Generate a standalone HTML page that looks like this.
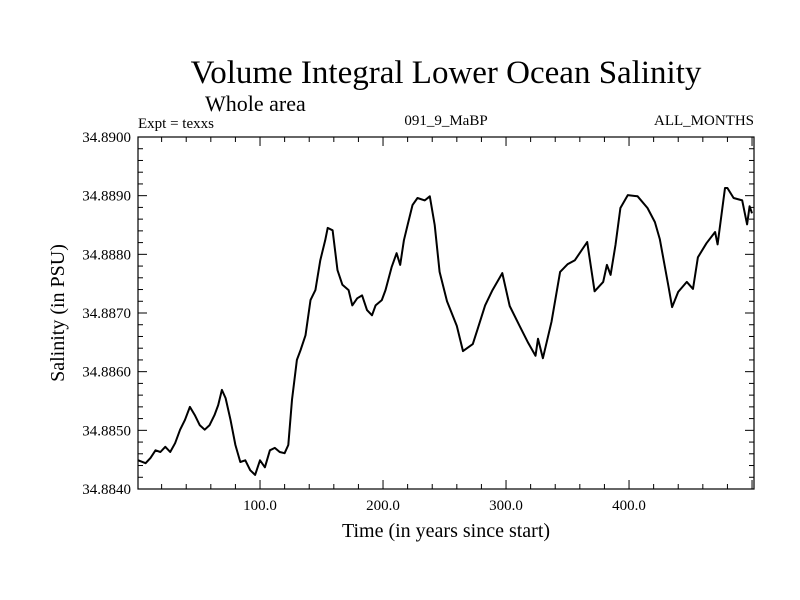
<!DOCTYPE html>
<html><head><meta charset="utf-8"><style>
html,body{margin:0;padding:0;background:#fff;}
svg{display:block;font-family:"Liberation Serif",serif;}
</style></head><body>
<svg id="chart" width="800" height="600">
<text x="446" y="83" font-size="33" text-anchor="middle">Volume Integral Lower Ocean Salinity</text>
<text x="205" y="111" font-size="22">Whole area</text>
<text x="138" y="128" font-size="15">Expt = texxs</text>
<text x="446" y="125" font-size="15" text-anchor="middle">091_9_MaBP</text>
<text x="754" y="125" font-size="15" text-anchor="end">ALL_MONTHS</text>
<text x="446" y="537" font-size="20" text-anchor="middle">Time (in years since start)</text>
<text transform="translate(64,313) rotate(-90)" font-size="20" text-anchor="middle">Salinity (in PSU)</text>
<g id="axes"></g>
<path id="line" fill="none" stroke="#000" stroke-width="2" stroke-linejoin="round"/>
<rect x="138" y="137" width="616" height="352" fill="none" stroke="#000" stroke-width="1.2"/>
</svg>
<script>
const years=[1,7,11,15,19,23,27,31,35,39,43,47,51,55,59,63,66,69,72,76,80,84,88,92,96,100,104,108,112,116,120,123,126,130,133,137,141,145,149,153,155,159,163,167,172,175,179,183,187,191,194,199,202,207,211,214,217,220,224,228,234,238,242,246,252,260,265,273,277,283,289,297,303,311,318,324,326,330,337,344,350,356,366,372,379,382,385,389,393,399,407,415,421,425,432,435,440,447,452,456,463,470,472,478,480,485,492,496,498,500];
const salinity=[34.88449,34.88444,34.88453,34.88466,34.88463,34.88472,34.88463,34.88478,34.88501,34.88518,34.88540,34.88526,34.88509,34.88501,34.88509,34.88526,34.88543,34.88569,34.88555,34.88518,34.88475,34.88446,34.88449,34.88432,34.88424,34.88449,34.88437,34.88466,34.88470,34.88463,34.88461,34.88475,34.88552,34.88620,34.88637,34.88662,34.88722,34.88739,34.88790,34.88824,34.88845,34.88841,34.88773,34.88748,34.88739,34.88713,34.88725,34.88730,34.88705,34.88696,34.88713,34.88722,34.88739,34.88778,34.88802,34.88782,34.88824,34.88850,34.88884,34.88896,34.88892,34.88899,34.88850,34.88770,34.88720,34.88678,34.88635,34.88647,34.88673,34.88713,34.88739,34.88768,34.88712,34.88678,34.88649,34.88627,34.88656,34.88623,34.88685,34.88770,34.88783,34.88790,34.88821,34.88737,34.88753,34.88782,34.88765,34.88816,34.88879,34.88901,34.88899,34.88879,34.88855,34.88826,34.88746,34.88710,34.88736,34.88753,34.88741,34.88795,34.88819,34.88838,34.88817,34.88913,34.88913,34.88896,34.88892,34.88851,34.88882,34.88870];
const xTickValues=[100,200,300,400];
const xTickLabels=["100.0","200.0","300.0","400.0"];
const yTickValues=[34.884,34.885,34.886,34.887,34.888,34.889,34.890];
const yTickLabels=["34.8840","34.8850","34.8860","34.8870","34.8880","34.8890","34.8900"];
const L=138,R=754,T=137,B=489,X0=0.8,X1=501.6,Y0=34.884,Y1=34.890;
function sx(v){return L+(v-X0)/(X1-X0)*(R-L);}
function sy(v){return B-(v-Y0)/(Y1-Y0)*(B-T);}
const NS="http://www.w3.org/2000/svg";
const g=document.getElementById('axes');
function ln(x1,y1,x2,y2,name){const e=document.createElementNS(NS,'line');e.setAttribute('x1',x1);e.setAttribute('y1',y1);e.setAttribute('x2',x2);e.setAttribute('y2',y2);e.setAttribute('stroke','#000');e.setAttribute('stroke-width','1');


g.appendChild(e);}
function tx(x,y,s,anchor,name){const e=document.createElementNS(NS,'text');e.setAttribute('x',x);e.setAttribute('y',y);e.setAttribute('font-size','15');e.setAttribute('text-anchor',anchor);e.textContent=s;


g.appendChild(e);}
for(let v=20;v<X1;v+=20){const x=sx(v);const major=v%100===0;const len=major?9:5;ln(x,B,x,B-len,'x-tick');ln(x,T,x,T+len,'x-tick-top');}
xTickValues.forEach((v,i)=>tx(sx(v),B+21,xTickLabels[i],'middle','x-tick-label'));
for(let k=0;k<=30;k++){const v=Y0+k*0.0002;const y=sy(v);const major=k%5===0;const len=major?9:5;ln(L,y,L+len,y,'y-tick');ln(R,y,R-len,y,'y-tick-right');}
yTickValues.forEach((v,i)=>tx(L-7,sy(v)+5,yTickLabels[i],'end','y-tick-label'));
let d='';years.forEach((yr,i)=>{d+=(i?'L':'M')+sx(yr).toFixed(1)+','+sy(salinity[i]).toFixed(1);});
document.getElementById('line').setAttribute('d',d);
</script>
</body></html>
